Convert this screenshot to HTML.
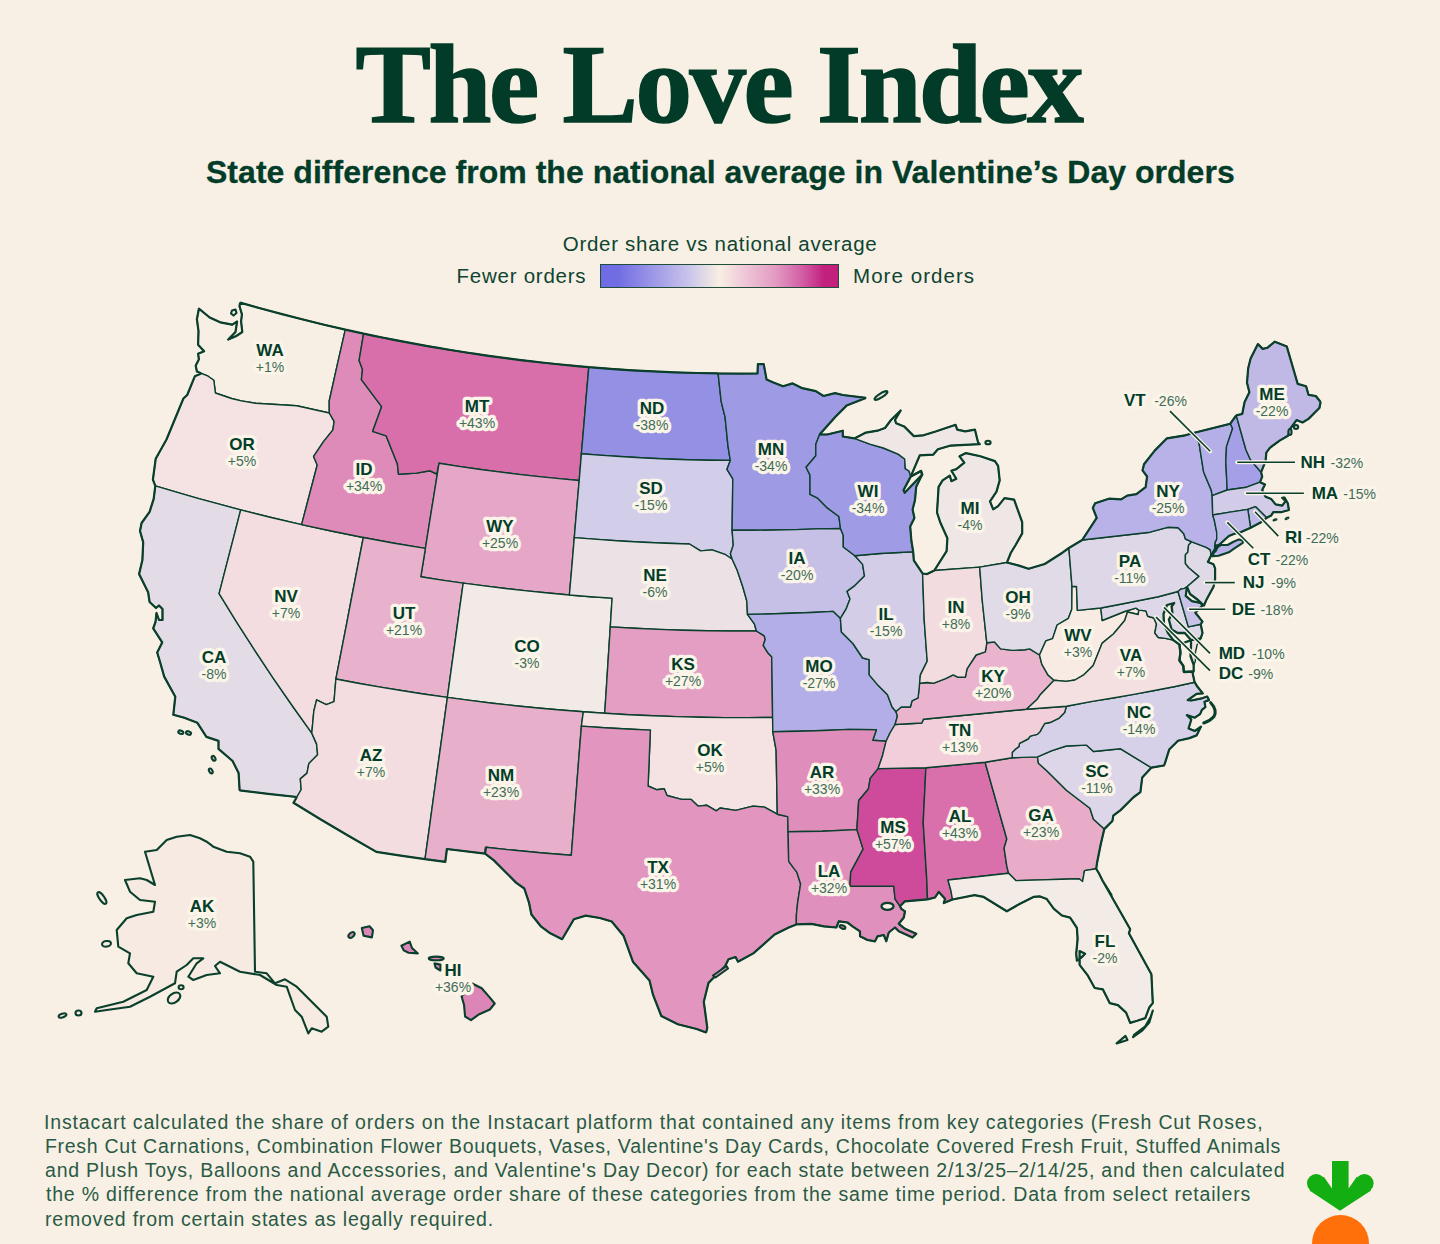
<!DOCTYPE html>
<html><head><meta charset="utf-8"><title>The Love Index</title>
<style>
html,body{margin:0;padding:0;}
body{width:1440px;height:1244px;overflow:hidden;background:#F8F0E4;position:relative;font-family:"Liberation Sans",sans-serif;color:#033D2A;}
.t{position:absolute;white-space:nowrap;line-height:1;}
.title{font-family:"Liberation Serif",serif;font-weight:700;color:#023B27;-webkit-text-stroke:1.6px #023B27;}
.sub{font-weight:700;color:#033D2A;-webkit-text-stroke:0.3px #033D2A;}
.lt,.lg{color:#0E4431;}
.bar{position:absolute;left:600px;top:263.5px;width:237px;height:22px;border:1.5px solid #1F4D3A;background:linear-gradient(90deg,#6F6BE3 0%,#716DE3 7%,#9D98E6 22%,#C9C4EA 37%,#F8EFE2 50%,#EFC9D9 60%,#E39DC3 73%,#D25EA5 85%,#C2217F 94%,#C01F7F 100%);}
.ft{color:#2A5A46;}
svg{position:absolute;left:0;top:0;}
path,ellipse{stroke:#0A3F2C;stroke-width:1.4;stroke-linejoin:round;}
.o{fill:none;stroke-width:2.2;}
.of{stroke-width:2.1;}
.w{fill:#F8F0E4;stroke-width:2.3;}
.ob{fill:none;stroke-width:3;stroke-linecap:round;}
text{font-family:"Liberation Sans",sans-serif;text-anchor:middle;paint-order:stroke;stroke:#FBF4E8;stroke-width:6.5px;stroke-linejoin:round;}
.ab{font-weight:700;font-size:17px;fill:#033D2A;}
.pc{font-size:14px;fill:#3F6C58;}
.st{text-anchor:start;}
.lh{stroke:#FBF4E8;stroke-width:4;stroke-linecap:round;}
.ll{stroke:#0A3F2C;stroke-width:1.6;}
</style></head><body>
<div class="t title" id="title" style="left:355.60px;top:27.00px;font-size:113.00px;letter-spacing:-2.431px;">The Love Index</div>
<div class="t sub" id="sub" style="left:206.00px;top:156.20px;font-size:32.00px;letter-spacing:0.030px;">State difference from the national average in Valentine’s Day orders</div>
<div class="t lt" id="lt" style="left:562.80px;top:234.00px;font-size:20.50px;letter-spacing:0.700px;">Order share vs national average</div>
<div class="t lg" id="fewer" style="left:456.60px;top:266.00px;font-size:20.50px;letter-spacing:0.745px;">Fewer orders</div>
<div class="t lg" id="more" style="left:853.00px;top:266.00px;font-size:20.50px;letter-spacing:1.060px;">More orders</div>
<div class="t ft" id="f1" style="left:44.00px;top:1113.00px;font-size:19.50px;letter-spacing:0.858px;">Instacart calculated the share of orders on the Instacart platform that contained any items from key categories (Fresh Cut Roses,</div>
<div class="t ft" id="f2" style="left:45.00px;top:1137.20px;font-size:19.50px;letter-spacing:0.708px;">Fresh Cut Carnations, Combination Flower Bouquets, Vases, Valentine's Day Cards, Chocolate Covered Fresh Fruit, Stuffed Animals</div>
<div class="t ft" id="f3" style="left:45.00px;top:1161.40px;font-size:19.50px;letter-spacing:0.783px;">and Plush Toys, Balloons and Accessories, and Valentine's Day Decor) for each state between 2/13/25–2/14/25, and then calculated</div>
<div class="t ft" id="f4" style="left:46.00px;top:1185.40px;font-size:19.50px;letter-spacing:0.805px;">the % difference from the national average order share of these categories from the same time period. Data from select retailers</div>
<div class="t ft" id="f5" style="left:45.00px;top:1209.60px;font-size:19.50px;letter-spacing:0.796px;">removed from certain states as legally required.</div>
<div class="bar"></div>
<svg width="1440" height="1244" viewBox="0 0 1440 1244">
<path fill="#F7EFE3" d="M240.1 302.6 L261.0 308.5 L282.0 314.1 L303.0 319.5 L324.1 324.7 L345.3 329.6 L337.2 365.2 L329.2 401.0 L329.2 401.0 L329.3 413.0 L296.7 405.7 L255.7 403.3 L241.3 400.9 L231.6 398.5 L215.4 393.0 L213.8 380.2 L208.1 376.2 L201.3 373.4 L196.9 371.4 L195.7 365.7 L198.9 359.3 L198.1 353.7 L204.1 351.3 L198.1 344.8 L198.5 331.2 L196.9 319.1 L198.9 308.7 L209.7 317.5 L220.2 322.3 L232.3 324.7 L237.1 321.5 L235.5 332.0 L228.2 339.6 L236.3 336.0 L242.3 332.0 L241.1 321.5 L241.9 314.3 L239.5 306.3 L240.1 302.6Z"/>
<path fill="#F5E3E3" d="M201.3 373.4 L208.1 376.2 L213.8 380.2 L215.4 393.0 L231.6 398.5 L241.3 400.9 L255.7 403.3 L296.7 405.7 L329.3 413.0 L334.1 421.4 L332.9 429.9 L323.3 441.9 L313.6 456.4 L317.2 465.0 L301.6 524.6 L271.1 517.5 L240.7 509.9 L219.3 504.2 L197.9 498.3 L176.5 492.2 L155.3 485.8 L152.9 479.6 L155.7 458.8 L166.5 439.5 L183.4 398.5 L187.2 395.0 L194.9 376.2 L201.3 373.4Z"/>
<path fill="#E3DCE6" d="M155.3 485.8 L176.5 492.2 L197.9 498.3 L219.3 504.2 L240.7 509.9 L233.5 537.8 L226.3 565.7 L219.1 593.6 L219.1 593.6 L236.5 621.8 L254.5 649.9 L273.0 677.8 L292.1 705.5 L311.8 733.1 L316.6 744.1 L317.6 754.8 L308.9 763.4 L307.0 773.1 L300.3 778.9 L301.2 789.5 L296.9 797.0 L268.2 793.9 L239.6 790.4 L238.6 773.1 L232.6 761.0 L218.5 748.9 L218.5 740.9 L206.4 736.9 L197.4 722.8 L184.3 717.8 L173.3 714.8 L175.3 696.7 L164.2 676.6 L160.2 662.5 L157.2 652.5 L162.2 642.4 L153.2 628.3 L155.5 622.0 L156.5 613.0 L159.0 620.0 L162.5 620.0 L162.5 609.0 L159.0 605.5 L156.0 608.0 L149.6 602.0 L148.1 592.2 L139.1 574.1 L142.4 560.0 L143.2 542.3 L140.0 531.0 L141.6 523.0 L149.6 511.8 L153.7 498.9 L155.3 485.8Z"/>
<path fill="#F3DDE0" d="M240.7 509.9 L271.1 517.5 L301.6 524.6 L332.4 531.3 L363.3 537.5 L357.8 565.7 L352.3 594.0 L346.9 622.3 L341.4 650.7 L335.9 679.0 L334.0 701.7 L326.3 704.6 L316.6 699.8 L313.8 711.4 L311.8 733.1 L292.1 705.5 L273.0 677.8 L254.5 649.9 L236.5 621.8 L219.1 593.6 L219.1 593.6 L226.3 565.7 L233.5 537.8 L240.7 509.9Z"/>
<path fill="#DF8BB9" d="M345.3 329.6 L363.6 333.6 L359.1 360.5 L362.5 369.5 L361.4 379.7 L381.6 406.7 L372.6 431.4 L386.2 435.9 L397.4 464.1 L398.5 474.2 L416.5 473.1 L430.0 470.8 L436.8 474.0 L439.0 463.3 L434.5 491.6 L429.9 520.0 L425.4 548.4 L394.3 543.2 L363.3 537.5 L332.4 531.3 L301.6 524.6 L317.2 465.0 L313.6 456.4 L323.3 441.9 L332.9 429.9 L334.1 421.4 L329.3 413.0 L329.2 401.0 L329.2 401.0 L337.2 365.2 L345.3 329.6Z"/>
<path fill="#D86FAB" d="M363.6 333.6 L372.9 335.6 L382.2 337.5 L391.5 339.3 L400.8 341.2 L410.1 342.9 L419.5 344.6 L428.8 346.3 L438.2 347.9 L447.5 349.5 L456.9 351.0 L466.3 352.5 L475.7 353.9 L485.1 355.3 L494.5 356.6 L503.9 357.9 L513.3 359.1 L522.7 360.3 L532.1 361.4 L541.5 362.5 L551.0 363.5 L560.4 364.5 L569.9 365.4 L579.3 366.3 L588.8 367.1 L586.3 395.9 L583.9 424.7 L581.4 453.7 L579.2 480.5 L559.1 478.6 L539.0 476.6 L518.9 474.4 L498.9 471.9 L478.9 469.3 L458.9 466.4 L439.0 463.3 L436.8 474.0 L430.0 470.8 L416.5 473.1 L398.5 474.2 L397.4 464.1 L386.2 435.9 L372.6 431.4 L381.6 406.7 L361.4 379.7 L362.5 369.5 L359.1 360.5 L363.6 333.6Z"/>
<path fill="#E6A6C7" d="M439.0 463.3 L458.9 466.4 L478.9 469.3 L498.9 471.9 L518.9 474.4 L539.0 476.6 L559.1 478.6 L579.2 480.5 L576.7 509.0 L574.3 537.6 L571.9 566.3 L569.4 595.0 L548.1 593.0 L526.8 590.9 L505.6 588.5 L484.4 585.9 L463.2 583.1 L442.0 580.1 L420.8 576.8 L420.8 576.8 L425.4 548.4 L429.9 520.0 L434.5 491.6 L439.0 463.3Z"/>
<path fill="#E8B2CC" d="M363.3 537.5 L394.3 543.2 L425.4 548.4 L420.8 576.8 L420.8 576.8 L442.0 580.1 L463.2 583.1 L459.2 611.7 L455.3 640.2 L451.3 668.8 L447.4 697.4 L425.0 694.2 L402.7 690.7 L380.4 687.1 L358.1 683.2 L335.9 679.0 L341.4 650.7 L346.9 622.3 L352.3 594.0 L357.8 565.7 L363.3 537.5Z"/>
<path fill="#F3DDE0" d="M335.9 679.0 L358.1 683.2 L380.4 687.1 L402.7 690.7 L425.0 694.2 L447.4 697.4 L442.9 729.8 L438.4 762.2 L433.9 794.5 L429.5 826.8 L425.0 859.1 L400.7 855.6 L376.4 851.9 L376.4 851.9 L348.4 835.8 L320.8 819.5 L293.5 802.8 L296.9 797.0 L301.2 789.5 L300.3 778.9 L307.0 773.1 L308.9 763.4 L317.6 754.8 L316.6 744.1 L311.8 733.1 L313.8 711.4 L316.6 699.8 L326.3 704.6 L334.0 701.7 L335.9 679.0Z"/>
<path fill="#F2EAE6" d="M463.2 583.1 L484.4 585.9 L505.6 588.5 L526.8 590.9 L548.1 593.0 L569.4 595.0 L590.8 596.7 L612.1 598.1 L612.1 598.1 L610.3 626.9 L608.4 655.7 L606.6 684.5 L604.7 713.3 L583.3 711.8 L560.6 710.0 L537.9 708.0 L515.2 705.7 L492.6 703.2 L470.0 700.4 L447.4 697.4 L451.3 668.8 L455.3 640.2 L459.2 611.7 L463.2 583.1Z"/>
<path fill="#E7AFCA" d="M447.4 697.4 L470.0 700.4 L492.6 703.2 L515.2 705.7 L537.9 708.0 L560.6 710.0 L583.3 711.8 L581.4 726.1 L578.8 758.5 L576.3 790.8 L573.8 823.1 L571.3 855.3 L571.3 855.3 L542.8 853.0 L514.3 850.3 L485.8 847.3 L485.8 847.3 L485.1 853.6 L446.9 849.0 L446.9 849.0 L445.3 861.8 L445.3 861.8 L425.0 859.1 L429.5 826.8 L433.9 794.5 L438.4 762.2 L442.9 729.8 L447.4 697.4Z"/>
<path fill="#9490E3" d="M588.8 367.1 L610.3 368.8 L631.8 370.3 L653.4 371.4 L674.9 372.4 L696.5 373.0 L718.1 373.4 L721.2 401.7 L725.1 417.2 L728.0 446.1 L730.3 460.4 L709.0 460.2 L687.7 459.7 L666.4 459.0 L645.1 458.0 L623.9 456.8 L602.6 455.4 L581.4 453.7 L583.9 424.7 L586.3 395.9 L588.8 367.1Z"/>
<path fill="#D2CDE8" d="M581.4 453.7 L602.6 455.4 L623.9 456.8 L645.1 458.0 L666.4 459.0 L687.7 459.7 L709.0 460.2 L730.3 460.4 L727.0 469.3 L732.8 478.9 L732.1 530.3 L733.3 545.1 L730.4 553.8 L732.2 559.3 L725.6 554.7 L712.1 549.9 L700.5 550.9 L689.5 544.0 L666.4 543.3 L643.3 542.3 L620.3 541.0 L597.3 539.4 L574.3 537.6 L576.7 509.0 L579.2 480.5 L581.4 453.7Z"/>
<path fill="#ECE2E6" d="M574.3 537.6 L597.3 539.4 L620.3 541.0 L643.3 542.3 L666.4 543.3 L689.5 544.0 L700.5 550.9 L712.1 549.9 L725.6 554.7 L732.2 559.3 L737.2 570.2 L743.0 587.5 L746.8 601.0 L747.5 614.4 L754.5 624.2 L756.4 631.0 L732.0 631.0 L707.6 630.8 L683.3 630.3 L658.9 629.4 L634.6 628.3 L610.3 626.9 L612.1 598.1 L612.1 598.1 L590.8 596.7 L569.4 595.0 L571.9 566.3 L574.3 537.6Z"/>
<path fill="#E49DC3" d="M610.3 626.9 L634.6 628.3 L658.9 629.4 L683.3 630.3 L707.6 630.8 L732.0 631.0 L756.4 631.0 L764.2 635.8 L765.2 639.6 L763.2 645.4 L768.0 653.1 L771.7 656.8 L771.7 656.8 L772.2 687.1 L772.6 717.4 L748.6 717.6 L724.6 717.6 L700.6 717.2 L676.6 716.6 L652.7 715.8 L628.7 714.7 L604.7 713.3 L606.6 684.5 L608.4 655.7 L610.3 626.9Z"/>
<path fill="#F5E2E2" d="M583.3 711.8 L604.7 713.3 L628.7 714.7 L652.7 715.8 L676.6 716.6 L700.6 717.2 L724.6 717.6 L748.6 717.6 L772.6 717.4 L772.8 731.8 L776.1 750.2 L777.3 814.2 L764.5 807.1 L752.9 806.1 L735.6 810.4 L720.1 808.0 L716.3 810.9 L706.6 805.2 L698.0 806.1 L691.2 799.4 L681.6 799.4 L667.1 795.5 L664.2 788.8 L656.5 789.7 L648.1 786.0 L650.4 730.1 L650.4 730.1 L627.4 729.0 L604.4 727.7 L581.4 726.1 L583.3 711.8Z"/>
<path fill="#E195BF" d="M581.4 726.1 L604.4 727.7 L627.4 729.0 L650.4 730.1 L650.4 730.1 L648.1 786.0 L656.5 789.7 L664.2 788.8 L667.1 795.5 L681.6 799.4 L691.2 799.4 L698.0 806.1 L706.6 805.2 L716.3 810.9 L720.1 808.0 L735.6 810.4 L752.9 806.1 L764.5 807.1 L777.3 814.2 L787.7 816.6 L788.1 831.8 L788.7 861.4 L793.5 867.9 L796.8 872.1 L800.6 884.0 L797.7 902.1 L796.4 915.0 L796.3 924.4 L788.8 927.4 L774.6 934.5 L753.3 953.4 L738.0 961.7 L735.6 957.0 L728.5 959.3 L725.0 966.4 L715.6 975.8 L708.5 982.9 L703.8 1001.8 L707.3 1027.8 L706.1 1032.5 L696.7 1029.0 L677.8 1024.2 L661.3 1016.0 L653.0 994.7 L649.5 980.6 L632.9 961.7 L623.5 935.7 L611.7 921.5 L599.9 918.0 L585.7 915.6 L573.9 919.2 L562.1 939.2 L550.3 933.3 L540.8 926.3 L531.4 914.5 L529.0 902.6 L524.3 888.5 L516.0 882.6 L500.7 867.2 L493.6 860.1 L485.1 853.6 L485.8 847.3 L485.8 847.3 L514.3 850.3 L542.8 853.0 L571.3 855.3 L571.3 855.3 L573.8 823.1 L576.3 790.8 L578.8 758.5 L581.4 726.1Z"/>
<path fill="#9F9AE4" d="M718.1 373.4 L737.8 373.6 L757.5 373.5 L757.9 364.1 L763.7 364.1 L766.6 379.6 L773.3 382.4 L783.0 386.3 L792.6 383.4 L802.3 388.2 L815.8 391.1 L823.5 396.0 L835.0 393.1 L842.8 395.0 L865.9 397.9 L846.6 405.6 L835.0 417.2 L819.6 434.5 L815.8 444.2 L815.8 455.8 L806.1 467.3 L810.0 475.1 L810.0 494.4 L817.7 498.2 L827.3 507.9 L838.9 516.5 L840.5 528.5 L817.1 528.9 L795.9 529.6 L774.6 530.0 L753.4 530.3 L732.1 530.3 L732.8 478.9 L727.0 469.3 L730.3 460.4 L728.0 446.1 L725.1 417.2 L721.2 401.7 L718.1 373.4Z"/>
<path fill="#C6C0E6" d="M732.1 530.3 L753.4 530.3 L774.6 530.0 L795.9 529.6 L817.1 528.9 L840.5 528.5 L843.3 535.4 L843.3 547.0 L854.9 555.7 L862.6 564.4 L864.5 576.0 L854.9 585.6 L847.1 591.4 L850.0 599.1 L846.2 608.8 L840.4 618.4 L833.2 611.4 L811.5 612.5 L789.8 613.3 L768.1 614.0 L747.5 614.4 L746.8 601.0 L743.0 587.5 L737.2 570.2 L732.2 559.3 L730.4 553.8 L733.3 545.1 L732.1 530.3Z"/>
<path fill="#B3AEE7" d="M747.5 614.4 L768.1 614.0 L789.8 613.3 L811.5 612.5 L833.2 611.4 L840.4 618.4 L841.4 631.9 L852.9 643.5 L862.6 658.0 L869.2 659.6 L869.2 674.9 L878.3 685.6 L887.5 694.7 L892.1 707.0 L895.9 711.5 L897.4 716.1 L895.1 724.5 L890.0 733.0 L886.1 741.2 L872.8 740.3 L876.4 729.7 L849.0 729.4 L823.6 730.5 L798.2 731.3 L772.8 731.8 L772.6 717.4 L772.2 687.1 L771.7 656.8 L771.7 656.8 L768.0 653.1 L763.2 645.4 L765.2 639.6 L764.2 635.8 L756.4 631.0 L754.5 624.2 L747.5 614.4Z"/>
<path fill="#DF8DBA" d="M772.8 731.8 L798.2 731.3 L823.6 730.5 L849.0 729.4 L876.4 729.7 L872.8 740.3 L886.1 741.2 L882.6 755.4 L878.1 768.6 L870.2 778.4 L868.4 789.0 L858.7 800.5 L856.9 829.6 L822.2 831.2 L788.1 831.8 L787.7 816.6 L777.3 814.2 L776.1 750.2 L772.8 731.8Z"/>
<path fill="#E090BC" d="M788.1 831.8 L822.2 831.2 L856.9 829.6 L863.1 849.1 L850.7 872.1 L850.0 886.3 L893.8 886.3 L895.0 898.8 L900.0 906.3 L901.3 908.8 L905.0 911.3 L903.8 917.5 L898.8 923.8 L905.0 928.8 L916.3 933.8 L912.5 937.5 L898.8 931.3 L895.0 927.5 L888.8 932.5 L886.3 941.3 L883.8 935.0 L877.5 936.3 L875.0 941.3 L867.5 940.0 L860.0 936.3 L860.0 931.3 L852.5 926.3 L847.5 922.5 L838.8 921.3 L836.3 927.5 L823.8 926.3 L811.3 923.8 L796.3 924.4 L796.4 915.0 L797.7 902.1 L800.6 884.0 L796.8 872.1 L793.5 867.9 L788.7 861.4 L788.1 831.8Z"/>
<path fill="#CE4A9B" d="M878.1 768.6 L925.9 767.7 L923.2 822.6 L926.8 880.0 L927.5 899.4 L905.0 901.3 L900.0 906.3 L895.0 898.8 L893.8 886.3 L850.0 886.3 L850.7 872.1 L863.1 849.1 L856.9 829.6 L858.7 800.5 L868.4 789.0 L870.2 778.4 L878.1 768.6Z"/>
<path fill="#D970AC" d="M925.9 767.7 L985.1 762.3 L1006.8 839.0 L1004.1 848.1 L1006.8 866.1 L1008.6 873.3 L948.0 880.0 L951.0 891.0 L952.5 899.5 L943.8 903.1 L945.0 898.8 L938.8 891.9 L935.0 897.5 L927.5 899.4 L926.8 880.0 L923.2 822.6 L925.9 767.7Z"/>
<path fill="#E8ABC8" d="M985.1 762.3 L1012.2 757.8 L1037.5 756.9 L1038.4 763.2 L1046.5 770.4 L1066.4 790.3 L1089.9 808.3 L1093.5 819.2 L1104.3 829.1 L1100.7 844.5 L1097.1 862.5 L1096.2 868.8 L1084.5 870.6 L1082.6 881.5 L1079.0 878.8 L1015.8 880.6 L1008.6 873.3 L1006.8 866.1 L1004.1 848.1 L1006.8 839.0 L985.1 762.3Z"/>
<path fill="#F3EBE6" d="M1096.2 868.8 L1084.5 870.6 L1082.6 881.5 L1079.0 878.8 L1015.8 880.6 L1008.6 873.3 L948.0 880.0 L951.0 891.0 L952.5 899.5 L974.5 895.1 L983.3 896.8 L1006.8 911.3 L1019.5 904.0 L1033.9 896.8 L1040.0 896.4 L1046.8 899.1 L1053.7 908.7 L1061.9 915.5 L1070.1 917.6 L1076.9 927.9 L1077.6 938.8 L1076.2 953.8 L1076.9 960.7 L1081.0 957.9 L1085.1 953.8 L1079.6 951.1 L1079.6 964.8 L1087.9 975.7 L1094.7 988.0 L1102.9 989.4 L1109.7 1003.1 L1117.9 1005.1 L1126.1 1012.6 L1130.2 1022.9 L1137.1 1020.8 L1145.3 1018.1 L1149.4 1007.2 L1152.8 1003.1 L1151.4 974.3 L1128.9 933.3 L1130.2 929.2 L1102.2 880.0 L1111.5 895.0 L1102.5 880.6 L1098.9 873.3 L1096.2 868.8Z"/>
<path fill="#DCD6E8" d="M1037.5 756.9 L1052.0 750.6 L1066.4 746.0 L1086.3 745.1 L1093.5 751.5 L1120.6 748.8 L1151.3 767.7 L1142.2 777.6 L1140.4 792.1 L1133.2 797.5 L1120.6 810.1 L1113.3 815.6 L1112.4 821.0 L1104.3 829.1 L1093.5 819.2 L1089.9 808.3 L1066.4 790.3 L1046.5 770.4 L1038.4 763.2 L1037.5 756.9Z"/>
<path fill="#D6D0E8" d="M1066.4 706.3 L1092.2 701.4 L1113.0 698.0 L1133.7 694.4 L1154.4 690.5 L1175.1 686.5 L1194.6 682.2 L1197.5 686.8 L1202.8 693.4 L1196.6 693.9 L1187.7 700.1 L1191.3 700.5 L1201.9 698.3 L1207.2 696.5 L1209.0 700.1 L1204.5 701.8 L1205.4 707.1 L1201.9 709.8 L1200.1 714.2 L1194.8 717.7 L1186.9 715.1 L1191.3 719.5 L1188.6 728.4 L1194.8 731.0 L1201.0 726.6 L1196.6 735.4 L1189.5 738.1 L1178.0 740.7 L1169.2 749.6 L1164.8 763.7 L1163.9 765.5 L1151.3 767.7 L1120.6 748.8 L1093.5 751.5 L1086.3 745.1 L1066.4 746.0 L1052.0 750.6 L1037.5 756.9 L1012.2 757.8 L1012.2 752.4 L1015.8 748.8 L1018.9 746.7 L1019.5 743.3 L1028.1 739.0 L1030.3 736.1 L1037.2 734.4 L1040.2 731.6 L1041.8 728.3 L1044.7 723.5 L1051.0 722.2 L1059.2 718.1 L1064.6 712.6 L1066.4 706.3Z"/>
<path fill="#F2CDDA" d="M895.1 724.5 L921.9 723.0 L923.4 719.2 L975.0 714.2 L1026.5 709.2 L1066.4 706.3 L1064.6 712.6 L1059.2 718.1 L1051.0 722.2 L1044.7 723.5 L1041.8 728.3 L1040.2 731.6 L1037.2 734.4 L1030.3 736.1 L1028.1 739.0 L1019.5 743.3 L1018.9 746.7 L1015.8 748.8 L1012.2 752.4 L1012.2 757.8 L985.1 762.3 L925.9 767.7 L878.1 768.6 L882.6 755.4 L886.1 741.2 L890.0 733.0 L895.1 724.5Z"/>
<path fill="#EAB4CE" d="M895.9 711.5 L901.3 707.0 L910.4 707.0 L912.0 700.8 L918.1 697.8 L919.6 683.3 L927.2 682.5 L933.3 683.3 L945.6 678.7 L953.2 674.9 L957.8 677.2 L965.4 677.2 L967.0 668.8 L976.1 655.0 L985.3 651.9 L986.8 642.8 L994.5 642.0 L1000.6 648.9 L1012.8 650.4 L1025.0 649.7 L1029.6 648.9 L1039.5 655.0 L1041.8 664.2 L1047.9 674.9 L1054.0 680.2 L1040.3 694.7 L1037.2 699.3 L1026.5 709.2 L975.0 714.2 L923.4 719.2 L921.9 723.0 L895.1 724.5 L897.4 716.1 L895.9 711.5Z"/>
<path fill="#D3CDE8" d="M854.9 555.7 L880.0 553.5 L913.2 551.8 L913.8 560.3 L921.0 571.1 L922.6 573.5 L924.2 620.0 L927.2 661.1 L920.4 674.9 L919.6 683.3 L918.1 697.8 L912.0 700.8 L910.4 707.0 L901.3 707.0 L895.9 711.5 L892.1 707.0 L887.5 694.7 L878.3 685.6 L869.2 674.9 L869.2 659.6 L862.6 658.0 L852.9 643.5 L841.4 631.9 L840.4 618.4 L846.2 608.8 L850.0 599.1 L847.1 591.4 L854.9 585.6 L864.5 576.0 L862.6 564.4 L854.9 555.7Z"/>
<path fill="#A09BE5" d="M854.9 555.7 L880.0 553.5 L913.2 551.8 L911.4 541.0 L910.2 526.5 L914.4 518.1 L912.6 509.6 L915.0 500.0 L916.2 486.7 L922.2 474.6 L921.0 471.0 L910.8 476.4 L909.0 471.0 L905.3 468.6 L904.7 459.0 L898.1 454.1 L883.3 448.0 L869.8 444.2 L854.4 438.4 L842.8 436.5 L842.8 430.7 L827.3 434.5 L819.6 434.5 L815.8 444.2 L815.8 455.8 L806.1 467.3 L810.0 475.1 L810.0 494.4 L817.7 498.2 L827.3 507.9 L838.9 516.5 L840.5 528.5 L843.3 535.4 L843.3 547.0 L854.9 555.7Z"/>
<path fill="#EFE6E6" d="M910.8 476.4 L909.0 471.0 L905.3 468.6 L904.7 459.0 L898.1 454.1 L883.3 448.0 L869.8 444.2 L854.4 438.4 L865.9 432.6 L877.5 430.7 L885.0 428.0 L891.0 420.0 L900.7 410.5 L895.0 420.0 L896.1 423.2 L904.1 426.4 L913.8 436.1 L923.4 435.3 L936.3 431.3 L955.6 424.8 L957.2 429.6 L965.2 431.3 L974.9 429.6 L978.1 442.5 L979.7 444.1 L960.0 445.1 L950.0 445.7 L937.9 449.3 L933.1 454.7 L919.8 455.3 L910.8 476.4Z"/>
<path fill="#EFE6E6" d="M934.3 570.5 L946.6 551.1 L947.4 538.3 L940.2 522.2 L937.0 512.5 L938.6 486.8 L942.6 480.4 L949.8 475.6 L951.4 481.2 L956.3 478.8 L951.4 470.7 L956.3 469.1 L964.3 462.7 L959.5 456.3 L965.9 453.1 L980.4 456.3 L994.9 461.1 L998.1 465.9 L999.7 480.4 L996.5 491.6 L990.0 501.3 L993.2 509.3 L998.1 506.1 L1004.5 498.1 L1014.1 499.7 L1022.2 522.2 L1022.2 533.4 L1015.8 544.7 L1010.9 552.7 L1007.0 562.5 L979.7 567.1 L934.3 570.5Z"/>
<path fill="#F3DCE0" d="M922.6 573.5 L927.0 574.1 L934.3 570.5 L979.7 567.1 L982.2 600.0 L986.8 642.8 L985.3 651.9 L976.1 655.0 L967.0 668.8 L965.4 677.2 L957.8 677.2 L953.2 674.9 L945.6 678.7 L933.3 683.3 L927.2 682.5 L919.6 683.3 L920.4 674.9 L927.2 661.1 L924.2 620.0 L922.6 573.5Z"/>
<path fill="#E1DAE7" d="M979.7 567.1 L1007.0 562.5 L1019.0 565.6 L1028.6 568.8 L1044.7 564.0 L1062.4 552.7 L1068.9 548.0 L1072.0 586.5 L1071.8 609.3 L1068.4 618.3 L1057.1 625.0 L1052.6 638.6 L1045.9 640.8 L1039.5 655.0 L1029.6 648.9 L1025.0 649.7 L1012.8 650.4 L1000.6 648.9 L994.5 642.0 L986.8 642.8 L982.2 600.0 L979.7 567.1Z"/>
<path fill="#F7EBE3" d="M1039.5 655.0 L1045.9 640.8 L1052.6 638.6 L1057.1 625.0 L1068.4 618.3 L1071.8 609.3 L1072.0 586.5 L1076.5 586.5 L1077.4 610.4 L1100.8 608.0 L1102.2 620.5 L1124.7 611.5 L1135.9 608.2 L1138.8 610.1 L1138.2 614.5 L1127.5 612.0 L1124.7 620.5 L1113.4 634.0 L1102.2 643.1 L1093.2 665.6 L1084.1 674.6 L1075.0 680.0 L1066.1 681.4 L1054.0 680.2 L1047.9 674.9 L1041.8 664.2 L1039.5 655.0Z"/>
<path fill="#F4E0E0" d="M1054.0 680.2 L1066.1 681.4 L1075.0 680.0 L1084.1 674.6 L1093.2 665.6 L1102.2 643.1 L1113.4 634.0 L1124.7 620.5 L1127.5 612.0 L1138.2 614.5 L1138.8 610.1 L1145.9 610.9 L1147.7 616.3 L1153.9 618.0 L1156.5 624.2 L1154.8 633.0 L1158.3 637.5 L1165.4 638.4 L1173.3 640.1 L1179.5 644.5 L1180.4 652.5 L1179.5 660.5 L1183.3 665.9 L1183.9 672.0 L1192.3 671.5 L1194.6 682.2 L1175.1 686.5 L1154.4 690.5 L1133.7 694.4 L1113.0 698.0 L1092.2 701.4 L1066.4 706.3 L1026.5 709.2 L1037.2 699.3 L1040.3 694.7 L1054.0 680.2Z"/>
<path fill="#DDD7E8" d="M1100.8 608.0 L1123.0 603.7 L1140.7 600.3 L1158.3 596.7 L1178.0 591.5 L1188.4 626.9 L1200.7 624.2 L1202.5 633.0 L1200.7 638.4 L1191.0 640.1 L1179.5 644.5 L1173.3 640.1 L1165.4 638.4 L1158.3 637.5 L1154.8 633.0 L1156.5 624.2 L1153.9 618.0 L1147.7 616.3 L1145.9 610.9 L1138.8 610.1 L1135.9 608.2 L1124.7 611.5 L1102.2 620.5 L1100.8 608.0Z"/>
<path fill="#DDD7E7" d="M1068.9 548.0 L1082.2 540.0 L1150.0 532.2 L1167.7 527.3 L1178.1 527.7 L1183.8 533.8 L1185.4 539.0 L1191.8 541.8 L1188.6 545.0 L1187.8 552.3 L1185.4 554.7 L1185.4 563.5 L1188.6 567.5 L1199.0 576.4 L1187.0 586.8 L1184.6 588.4 L1181.0 589.0 L1178.0 591.5 L1158.3 596.7 L1140.7 600.3 L1123.0 603.7 L1100.8 608.0 L1077.4 610.4 L1076.5 586.5 L1072.0 586.5 L1068.9 548.0Z"/>
<path fill="#C8C2E8" d="M1178.0 591.5 L1181.0 589.0 L1184.6 588.4 L1187.0 586.8 L1185.7 595.9 L1191.9 601.2 L1200.7 603.0 L1202.5 605.6 L1195.4 612.7 L1202.5 621.6 L1200.7 624.2 L1188.4 626.9 L1178.0 591.5Z"/>
<path fill="#E0DAE7" d="M1187.0 586.8 L1199.0 576.4 L1188.6 567.5 L1185.4 563.5 L1185.4 554.7 L1187.8 552.3 L1188.6 545.0 L1191.8 541.8 L1206.3 547.4 L1210.3 549.8 L1211.1 555.5 L1207.9 561.9 L1213.5 564.3 L1215.1 568.3 L1215.1 579.6 L1213.5 586.8 L1206.3 600.0 L1204.0 605.5 L1198.0 600.0 L1190.0 594.0 L1187.0 586.8Z"/>
<path fill="#B8B2E8" d="M1082.2 540.0 L1096.7 517.8 L1092.8 507.9 L1095.1 503.3 L1108.9 498.7 L1121.1 499.4 L1127.2 495.6 L1136.4 494.1 L1145.6 487.2 L1147.1 476.5 L1142.5 470.4 L1144.0 464.3 L1154.7 450.6 L1167.0 438.3 L1185.3 435.3 L1194.3 432.8 L1199.0 442.9 L1203.6 472.0 L1211.3 490.3 L1212.2 495.6 L1212.7 515.0 L1214.3 520.1 L1216.7 532.2 L1216.7 539.4 L1215.1 542.6 L1215.6 547.8 L1211.1 555.5 L1210.3 549.8 L1206.3 547.4 L1191.8 541.8 L1185.4 539.0 L1183.8 533.8 L1178.1 527.7 L1167.7 527.3 L1150.0 532.2 L1082.2 540.0Z"/>
<path fill="#B5AFE8" d="M1194.3 432.8 L1230.3 423.7 L1232.6 428.5 L1226.5 446.6 L1225.8 461.3 L1227.2 490.0 L1212.2 495.6 L1211.3 490.3 L1203.6 472.0 L1199.0 442.9 L1194.3 432.8Z"/>
<path fill="#A49FE6" d="M1230.3 423.7 L1236.2 415.3 L1246.0 450.0 L1250.6 460.0 L1261.1 472.2 L1262.2 476.7 L1260.0 482.2 L1246.7 487.2 L1227.2 490.0 L1225.8 461.3 L1226.5 446.6 L1232.6 428.5 L1230.3 423.7Z"/>
<path fill="#C0B9E6" d="M1236.2 415.3 L1242.2 414.0 L1244.6 402.0 L1249.4 392.3 L1247.0 382.7 L1248.2 368.2 L1250.6 358.6 L1257.9 344.1 L1262.7 348.9 L1267.5 347.7 L1274.8 341.7 L1286.8 346.5 L1297.7 383.9 L1306.1 386.3 L1308.5 394.8 L1315.8 396.0 L1320.6 402.0 L1319.4 408.0 L1308.5 418.9 L1302.5 422.5 L1296.5 420.1 L1290.4 428.5 L1288.0 435.8 L1279.6 440.6 L1269.9 447.8 L1266.3 452.6 L1265.6 461.0 L1261.1 472.2 L1250.6 460.0 L1246.0 450.0 L1236.2 415.3Z"/>
<path fill="#D2CCE8" d="M1227.2 490.0 L1246.7 487.2 L1260.0 482.2 L1265.0 484.4 L1262.2 490.0 L1265.6 496.7 L1271.1 498.9 L1275.6 504.4 L1282.2 505.6 L1285.6 501.1 L1282.2 497.8 L1284.5 497.5 L1287.8 503.3 L1288.9 510.0 L1281.1 512.2 L1273.3 512.2 L1271.1 515.6 L1266.7 517.8 L1255.6 506.7 L1247.8 509.4 L1230.0 512.1 L1212.7 515.0 L1212.2 495.6 L1227.2 490.0Z"/>
<path fill="#C0BAE8" d="M1247.8 509.4 L1255.6 506.7 L1266.7 517.8 L1261.1 522.2 L1250.6 527.8 L1247.8 509.4Z"/>
<path fill="#C0BAE8" d="M1212.7 515.0 L1230.0 512.1 L1247.8 509.4 L1250.6 527.8 L1241.1 532.1 L1234.4 533.8 L1228.8 536.0 L1220.9 543.3 L1215.6 547.8 L1215.1 542.6 L1216.7 539.4 L1216.7 532.2 L1214.3 520.1 L1212.7 515.0Z"/>
<path fill="#F4E0E0" d="M1200.7 638.4 L1197.2 644.5 L1195.4 652.5 L1195.4 661.3 L1193.7 665.0 L1190.5 656.0 L1191.0 646.3 L1191.0 640.1Z"/>
<path fill="#B8B2E8" class="of" d="M1215.5 548.0 L1220.9 545.0 L1227.6 545.0 L1233.0 542.0 L1238.9 539.4 L1242.8 540.5 L1242.8 542.8 L1234.4 548.4 L1228.8 552.3 L1218.6 555.7 L1212.5 556.3Z"/>
<path fill="#0A3F2C" d="M1214.5 545.5 L1219.5 544.5 L1215.5 552Z"/>
<path class="w" d="M1174.2 603.0 L1171.6 606.5 L1172.4 612.7 L1168.9 619.8 L1171.6 629.5 L1177.7 633.0 L1184.8 633.0 L1191.0 640.1 L1191.0 646.3 L1190.5 656.0 L1193.7 665.0 L1193.7 671.5 L1183.9 672.0 L1183.3 665.9 L1179.5 660.5 L1180.4 652.5 L1179.5 644.5 L1173.3 640.1 L1168.0 633.0 L1164.0 624.0 L1163.5 614.0 L1167.0 605.0Z"/>
<path class="w" d="M910.8 476.4 L903.5 490.3 L904.7 492.7 L922.2 474.6 L921.0 471.0Z"/>
<ellipse class="w" cx="887.5" cy="906.3" rx="6" ry="3.5"/>
<g class="b">
</g>
<path class="o" d="M240.1 302.6 L261.0 308.5 L282.0 314.1 L303.0 319.5 L324.1 324.7 L345.3 329.6 M240.1 302.6 L239.5 306.3 L241.9 314.3 L241.1 321.5 L242.3 332.0 L236.3 336.0 L228.2 339.6 L235.5 332.0 L237.1 321.5 L232.3 324.7 L220.2 322.3 L209.7 317.5 L198.9 308.7 L196.9 319.1 L198.5 331.2 L198.1 344.8 L204.1 351.3 L198.1 353.7 L198.9 359.3 L195.7 365.7 L196.9 371.4 L201.3 373.4 M345.3 329.6 L363.6 333.6 M201.3 373.4 L194.9 376.2 L187.2 395.0 L183.4 398.5 L166.5 439.5 L155.7 458.8 L152.9 479.6 L155.3 485.8 M155.3 485.8 L153.7 498.9 L149.6 511.8 L141.6 523.0 L140.0 531.0 L143.2 542.3 L142.4 560.0 L139.1 574.1 L148.1 592.2 L149.6 602.0 L156.0 608.0 L159.0 605.5 L162.5 609.0 L162.5 620.0 L159.0 620.0 L156.5 613.0 L155.5 622.0 L153.2 628.3 L162.2 642.4 L157.2 652.5 L160.2 662.5 L164.2 676.6 L175.3 696.7 L173.3 714.8 L184.3 717.8 L197.4 722.8 L206.4 736.9 L218.5 740.9 L218.5 748.9 L232.6 761.0 L238.6 773.1 L239.6 790.4 M239.6 790.4 L268.2 793.9 L296.9 797.0 M296.9 797.0 L293.5 802.8 L320.8 819.5 L348.4 835.8 L376.4 851.9 L376.4 851.9 L400.7 855.6 L425.0 859.1 M425.0 859.1 L445.3 861.8 L445.3 861.8 L446.9 849.0 L446.9 849.0 L485.1 853.6 L485.8 847.3 M706.1 1032.5 L696.7 1029.0 L677.8 1024.2 L661.3 1016.0 L653.0 994.7 L649.5 980.6 L632.9 961.7 L623.5 935.7 L611.7 921.5 L599.9 918.0 L585.7 915.6 L573.9 919.2 L562.1 939.2 L550.3 933.3 L540.8 926.3 L531.4 914.5 L529.0 902.6 L524.3 888.5 L516.0 882.6 L500.7 867.2 L493.6 860.1 L485.1 853.6 L485.8 847.3 M796.3 924.4 L788.8 927.4 L774.6 934.5 L753.3 953.4 L738.0 961.7 L735.6 957.0 L728.5 959.3 L725.0 966.4 L715.6 975.8 L708.5 982.9 L703.8 1001.8 L707.3 1027.8 L706.1 1032.5 M796.3 924.4 L811.3 923.8 L823.8 926.3 L836.3 927.5 L838.8 921.3 L847.5 922.5 L852.5 926.3 L860.0 931.3 L860.0 936.3 L867.5 940.0 L875.0 941.3 L877.5 936.3 L883.8 935.0 L886.3 941.3 L888.8 932.5 L895.0 927.5 L898.8 931.3 L912.5 937.5 L916.3 933.8 L905.0 928.8 L898.8 923.8 L903.8 917.5 L905.0 911.3 L901.3 908.8 L900.0 906.3 M900.0 906.3 L905.0 901.3 L927.5 899.4 M927.5 899.4 L935.0 897.5 L938.8 891.9 L945.0 898.8 L943.8 903.1 L952.5 899.5 M952.5 899.5 L974.5 895.1 L983.3 896.8 L1006.8 911.3 L1019.5 904.0 L1033.9 896.8 L1040.0 896.4 L1046.8 899.1 L1053.7 908.7 L1061.9 915.5 L1070.1 917.6 L1076.9 927.9 L1077.6 938.8 L1076.2 953.8 L1076.9 960.7 L1081.0 957.9 L1085.1 953.8 L1079.6 951.1 L1079.6 964.8 L1087.9 975.7 L1094.7 988.0 L1102.9 989.4 L1109.7 1003.1 L1117.9 1005.1 L1126.1 1012.6 L1130.2 1022.9 L1137.1 1020.8 L1145.3 1018.1 L1149.4 1007.2 L1152.8 1003.1 L1151.4 974.3 L1128.9 933.3 L1130.2 929.2 L1102.2 880.0 L1111.5 895.0 L1102.5 880.6 L1098.9 873.3 L1096.2 868.8 M1104.3 829.1 L1100.7 844.5 L1097.1 862.5 L1096.2 868.8 M1151.3 767.7 L1142.2 777.6 L1140.4 792.1 L1133.2 797.5 L1120.6 810.1 L1113.3 815.6 L1112.4 821.0 L1104.3 829.1 M1194.6 682.2 L1197.5 686.8 L1202.8 693.4 L1196.6 693.9 L1187.7 700.1 L1191.3 700.5 L1201.9 698.3 L1207.2 696.5 L1209.0 700.1 L1204.5 701.8 L1205.4 707.1 L1201.9 709.8 L1200.1 714.2 L1194.8 717.7 L1186.9 715.1 L1191.3 719.5 L1188.6 728.4 L1194.8 731.0 L1201.0 726.6 L1196.6 735.4 L1189.5 738.1 L1178.0 740.7 L1169.2 749.6 L1164.8 763.7 L1163.9 765.5 L1151.3 767.7 M1179.5 644.5 L1180.4 652.5 L1179.5 660.5 L1183.3 665.9 L1183.9 672.0 L1192.3 671.5 L1194.6 682.2 M1200.7 624.2 L1202.5 633.0 L1200.7 638.4 L1191.0 640.1 L1179.5 644.5 M1187.0 586.8 L1185.7 595.9 L1191.9 601.2 L1200.7 603.0 L1202.5 605.6 L1195.4 612.7 L1202.5 621.6 L1200.7 624.2 M1211.1 555.5 L1207.9 561.9 L1213.5 564.3 L1215.1 568.3 L1215.1 579.6 L1213.5 586.8 L1206.3 600.0 L1204.0 605.5 L1198.0 600.0 L1190.0 594.0 L1187.0 586.8 M1215.6 547.8 L1211.1 555.5 M1215.6 547.8 L1220.9 543.3 L1228.8 536.0 L1234.4 533.8 L1241.1 532.1 L1250.6 527.8 M1250.6 527.8 L1261.1 522.2 L1266.7 517.8 M1260.0 482.2 L1265.0 484.4 L1262.2 490.0 L1265.6 496.7 L1271.1 498.9 L1275.6 504.4 L1282.2 505.6 L1285.6 501.1 L1282.2 497.8 L1284.5 497.5 L1287.8 503.3 L1288.9 510.0 L1281.1 512.2 L1273.3 512.2 L1271.1 515.6 L1266.7 517.8 M1261.1 472.2 L1262.2 476.7 L1260.0 482.2 M1320.6 402.0 L1319.4 408.0 L1308.5 418.9 L1302.5 422.5 L1296.5 420.1 L1290.4 428.5 L1288.0 435.8 L1279.6 440.6 L1269.9 447.8 L1266.3 452.6 L1265.6 461.0 L1261.1 472.2 M1236.2 415.3 L1242.2 414.0 L1244.6 402.0 L1249.4 392.3 L1247.0 382.7 L1248.2 368.2 L1250.6 358.6 L1257.9 344.1 L1262.7 348.9 L1267.5 347.7 L1274.8 341.7 L1286.8 346.5 L1297.7 383.9 L1306.1 386.3 L1308.5 394.8 L1315.8 396.0 L1320.6 402.0 M1230.3 423.7 L1236.2 415.3 M1194.3 432.8 L1230.3 423.7 M1185.3 435.3 L1194.3 432.8 M1082.2 540.0 L1096.7 517.8 L1092.8 507.9 L1095.1 503.3 L1108.9 498.7 L1121.1 499.4 L1127.2 495.6 L1136.4 494.1 L1145.6 487.2 L1147.1 476.5 L1142.5 470.4 L1144.0 464.3 L1154.7 450.6 L1167.0 438.3 L1185.3 435.3 M1068.9 548.0 L1082.2 540.0 M1007.0 562.5 L1019.0 565.6 L1028.6 568.8 L1044.7 564.0 L1062.4 552.7 L1068.9 548.0 M934.3 570.5 L946.6 551.1 L947.4 538.3 L940.2 522.2 L937.0 512.5 L938.6 486.8 L942.6 480.4 L949.8 475.6 L951.4 481.2 L956.3 478.8 L951.4 470.7 L956.3 469.1 L964.3 462.7 L959.5 456.3 L965.9 453.1 L980.4 456.3 L994.9 461.1 L998.1 465.9 L999.7 480.4 L996.5 491.6 L990.0 501.3 L993.2 509.3 L998.1 506.1 L1004.5 498.1 L1014.1 499.7 L1022.2 522.2 L1022.2 533.4 L1015.8 544.7 L1010.9 552.7 L1007.0 562.5 M854.4 438.4 L865.9 432.6 L877.5 430.7 L885.0 428.0 L891.0 420.0 L900.7 410.5 L895.0 420.0 L896.1 423.2 L904.1 426.4 L913.8 436.1 L923.4 435.3 L936.3 431.3 L955.6 424.8 L957.2 429.6 L965.2 431.3 L974.9 429.6 L978.1 442.5 L979.7 444.1 L960.0 445.1 L950.0 445.7 L937.9 449.3 L933.1 454.7 L919.8 455.3 L910.8 476.4 M922.6 573.5 L927.0 574.1 L934.3 570.5 M913.2 551.8 L913.8 560.3 L921.0 571.1 L922.6 573.5 M913.2 551.8 L911.4 541.0 L910.2 526.5 L914.4 518.1 L912.6 509.6 L915.0 500.0 L916.2 486.7 L922.2 474.6 L921.0 471.0 L910.8 476.4 M854.4 438.4 L842.8 436.5 L842.8 430.7 L827.3 434.5 L819.6 434.5 M865.9 397.9 L846.6 405.6 L835.0 417.2 L819.6 434.5 M718.1 373.4 L737.8 373.6 L757.5 373.5 L757.9 364.1 L763.7 364.1 L766.6 379.6 L773.3 382.4 L783.0 386.3 L792.6 383.4 L802.3 388.2 L815.8 391.1 L823.5 396.0 L835.0 393.1 L842.8 395.0 L865.9 397.9 M588.8 367.1 L610.3 368.8 L631.8 370.3 L653.4 371.4 L674.9 372.4 L696.5 373.0 L718.1 373.4 M363.6 333.6 L372.9 335.6 L382.2 337.5 L391.5 339.3 L400.8 341.2 L410.1 342.9 L419.5 344.6 L428.8 346.3 L438.2 347.9 L447.5 349.5 L456.9 351.0 L466.3 352.5 L475.7 353.9 L485.1 355.3 L494.5 356.6 L503.9 357.9 L513.3 359.1 L522.7 360.3 L532.1 361.4 L541.5 362.5 L551.0 363.5 L560.4 364.5 L569.9 365.4 L579.3 366.3 L588.8 367.1"/>
<path d="M232 310.5 L235.5 309.5 L236.5 313 L233.5 315.5 L231 313.5Z" fill="#F7EFE3" class="of"/>
<ellipse cx="180.8" cy="732.2" rx="2.6" ry="1.6" transform="rotate(20 180.8 732.2)" fill="#E3DCE6" class="of"/>
<ellipse cx="188.5" cy="733" rx="2.6" ry="1.6" transform="rotate(20 188.5 733)" fill="#E3DCE6" class="of"/>
<ellipse cx="213.6" cy="758.3" rx="1.6" ry="2.6" transform="rotate(-30 213.6 758.3)" fill="#E3DCE6" class="of"/>
<ellipse cx="210.8" cy="771" rx="1.6" ry="2.6" transform="rotate(-30 210.8 771)" fill="#E3DCE6" class="of"/>
<ellipse cx="881" cy="395.5" rx="7.5" ry="2" transform="rotate(-32 881 395.5)" fill="#EFE6E6" class="of"/>
<ellipse cx="988" cy="442.5" rx="2.6" ry="1.8" fill="#EFE6E6" class="of"/>
<path d="M713 975.5 L726.5 966 L728 968.5 L715.5 977.5Z" fill="#E195BF" class="of"/>
<ellipse cx="842.5" cy="927" rx="3" ry="1.5" transform="rotate(20 842.5 927)" fill="#E090BC" class="of"/>
<ellipse style="stroke-width:1.3" cx="1275" cy="519.8" rx="2" ry="0.7" transform="rotate(-20 1275 519.8)" fill="#D2CCE8" class="of"/>
<ellipse style="stroke-width:1.3" cx="1287" cy="518.3" rx="2" ry="0.8" transform="rotate(-25 1287 518.3)" fill="#D2CCE8" class="of"/>
<ellipse cx="1290" cy="432" rx="1.6" ry="3" fill="#C0B9E6" class="of"/>
<ellipse cx="1296" cy="427" rx="2.2" ry="2" fill="#C0B9E6" class="of"/>
<path d="M1152.8 1010.6 L1149.4 1022.2 L1142.5 1030.4 L1133.0 1037.2 L1134.3 1034.5 L1145.3 1026.3 L1150.7 1016.7Z" fill="#F3EBE6" class="of"/>
<path d="M1116.6 1043.4 L1125.5 1035.9 L1127.5 1040Z" fill="#F3EBE6" class="of"/>
<path class="ob" d="M1210.7 702.7 Q1217.5 710 1214 716.5 Q1210 721 1203.7 723"/>
<path fill="#F6EAE3" class="of" d="M145.0 851.7 L156.7 850.0 L166.7 840.0 L176.7 836.7 L190.0 835.0 L200.0 838.3 L206.7 841.7 L213.3 846.7 L226.7 851.7 L240.0 853.3 L250.0 856.7 L253.3 861.7 L255.0 971.7 L266.7 973.3 L275.0 983.3 L285.0 979.3 L296.7 986.7 L326.7 1016.7 L328.3 1026.7 L321.7 1031.7 L311.7 1028.3 L308.3 1033.3 L301.7 1016.7 L295.0 1010.0 L286.7 986.7 L276.7 985.0 L260.0 975.0 L240.0 971.7 L220.0 961.7 L215.0 966.0 L220.0 973.3 L206.7 975.0 L193.3 980.0 L188.3 976.7 L196.7 963.3 L203.3 958.3 L193.3 958.3 L186.7 965.0 L176.7 971.7 L175.0 983.3 L150.0 996.7 L130.0 1006.7 L106.7 1010.0 L95.0 1011.7 L96.7 1008.3 L123.3 1001.7 L146.7 990.0 L153.3 976.7 L136.7 973.3 L128.3 963.3 L130.0 953.3 L118.3 946.7 L116.7 930.0 L126.7 918.3 L136.7 915.0 L153.3 911.7 L155.0 901.7 L140.0 900.0 L130.0 891.7 L125.0 880.0 L140.0 878.3 L146.7 880.0 L155.0 885.0Z"/>
<ellipse fill="#F6EAE3" class="of" cx="101.9" cy="898" rx="2.5" ry="7" transform="rotate(-35 101.9 898)"/>
<ellipse fill="#F6EAE3" class="of" cx="106.5" cy="943.8" rx="4.5" ry="2.8" transform="rotate(-10 106.5 943.8)"/>
<ellipse fill="#F6EAE3" class="of" cx="174" cy="998" rx="7" ry="4.5" transform="rotate(-35 174 998)"/>
<ellipse fill="#F6EAE3" class="of" cx="181.1" cy="987.2" rx="2.5" ry="2" transform="rotate(0 181.1 987.2)"/>
<ellipse fill="#F6EAE3" class="of" cx="62.5" cy="1015.5" rx="4" ry="1.8" transform="rotate(-20 62.5 1015.5)"/>
<ellipse fill="#F6EAE3" class="of" cx="78.5" cy="1013" rx="3" ry="2.5" transform="rotate(0 78.5 1013)"/>
<path fill="#DC85B7" class="of" d="M361.8 928.0 L369.5 926.2 L373.0 930.3 L371.9 937.4 L363.6 935.7Z"/>
<path fill="#DC85B7" class="of" d="M401.4 945.7 L409.7 941.6 L412.0 948.0 L417.9 953.4 L408.5 952.8 L403.8 950.4Z"/>
<path fill="#DC85B7" class="of" d="M434.5 963.4 L440.4 964.6 L440.4 970.5 L435.6 967.5Z"/>
<path fill="#DC85B7" class="of" d="M472.2 983.5 L481.7 988.2 L489.9 997.6 L494.7 1003.5 L489.9 1009.5 L479.3 1014.2 L471.0 1020.1 L465.1 1016.5 L464.0 1004.7 L461.6 996.5 L467.5 990.6Z"/>
<ellipse fill="#DC85B7" class="of" cx="351.5" cy="935" rx="3.5" ry="2.2" transform="rotate(-40 351.5 935)"/>
<ellipse fill="#DC85B7" class="of" cx="436.2" cy="958.4" rx="7.5" ry="1.8" transform="rotate(0 436.2 958.4)"/><line class="lh" x1="1170" y1="411.1" x2="1210.2" y2="451.3"/><line class="lh" x1="1237.2" y1="462.2" x2="1295" y2="462.2"/><line class="lh" x1="1246.1" y1="493.3" x2="1303.9" y2="493.3"/><line class="lh" x1="1255" y1="511.7" x2="1278.3" y2="536.1"/><line class="lh" x1="1227.3" y1="522.4" x2="1253.3" y2="548.3"/><line class="lh" x1="1205.1" y1="582.6" x2="1234.8" y2="582.6"/><line class="lh" x1="1189" y1="609.2" x2="1225.2" y2="609.2"/><line class="lh" x1="1164" y1="607.4" x2="1210" y2="653.4"/><line class="lh" x1="1156.1" y1="617.1" x2="1210" y2="670.6"/><line class="ll" x1="1170" y1="411.1" x2="1210.2" y2="451.3"/><line class="ll" x1="1237.2" y1="462.2" x2="1295" y2="462.2"/><line class="ll" x1="1246.1" y1="493.3" x2="1303.9" y2="493.3"/><line class="ll" x1="1255" y1="511.7" x2="1278.3" y2="536.1"/><line class="ll" x1="1227.3" y1="522.4" x2="1253.3" y2="548.3"/><line class="ll" x1="1205.1" y1="582.6" x2="1234.8" y2="582.6"/><line class="ll" x1="1189" y1="609.2" x2="1225.2" y2="609.2"/><line class="ll" x1="1164" y1="607.4" x2="1210" y2="653.4"/><line class="ll" x1="1156.1" y1="617.1" x2="1210" y2="670.6"/><text class="ab" x="270.0" y="355.5">WA</text><text class="pc" x="270.0" y="371.5">+1%</text><text class="ab" x="242.0" y="449.5">OR</text><text class="pc" x="242.0" y="465.5">+5%</text><text class="ab" x="214.0" y="662.5">CA</text><text class="pc" x="214.0" y="678.5">-8%</text><text class="ab" x="286.0" y="601.5">NV</text><text class="pc" x="286.0" y="617.5">+7%</text><text class="ab" x="364.0" y="474.5">ID</text><text class="pc" x="364.0" y="490.5">+34%</text><text class="ab" x="477.0" y="411.5">MT</text><text class="pc" x="477.0" y="427.5">+43%</text><text class="ab" x="500.0" y="531.5">WY</text><text class="pc" x="500.0" y="547.5">+25%</text><text class="ab" x="404.0" y="618.5">UT</text><text class="pc" x="404.0" y="634.5">+21%</text><text class="ab" x="371.0" y="760.5">AZ</text><text class="pc" x="371.0" y="776.5">+7%</text><text class="ab" x="527.0" y="651.5">CO</text><text class="pc" x="527.0" y="667.5">-3%</text><text class="ab" x="501.0" y="780.5">NM</text><text class="pc" x="501.0" y="796.5">+23%</text><text class="ab" x="652.0" y="413.5">ND</text><text class="pc" x="652.0" y="429.5">-38%</text><text class="ab" x="651.0" y="493.5">SD</text><text class="pc" x="651.0" y="509.5">-15%</text><text class="ab" x="655.0" y="580.5">NE</text><text class="pc" x="655.0" y="596.5">-6%</text><text class="ab" x="683.0" y="669.5">KS</text><text class="pc" x="683.0" y="685.5">+27%</text><text class="ab" x="710.0" y="755.5">OK</text><text class="pc" x="710.0" y="771.5">+5%</text><text class="ab" x="658.0" y="872.5">TX</text><text class="pc" x="658.0" y="888.5">+31%</text><text class="ab" x="771.0" y="454.5">MN</text><text class="pc" x="771.0" y="470.5">-34%</text><text class="ab" x="797.0" y="563.5">IA</text><text class="pc" x="797.0" y="579.5">-20%</text><text class="ab" x="819.0" y="671.5">MO</text><text class="pc" x="819.0" y="687.5">-27%</text><text class="ab" x="822.0" y="777.5">AR</text><text class="pc" x="822.0" y="793.5">+33%</text><text class="ab" x="829.0" y="876.5">LA</text><text class="pc" x="829.0" y="892.5">+32%</text><text class="ab" x="868.0" y="496.5">WI</text><text class="pc" x="868.0" y="512.5">-34%</text><text class="ab" x="886.0" y="619.5">IL</text><text class="pc" x="886.0" y="635.5">-15%</text><text class="ab" x="893.0" y="832.5">MS</text><text class="pc" x="893.0" y="848.5">+57%</text><text class="ab" x="960.0" y="821.5">AL</text><text class="pc" x="960.0" y="837.5">+43%</text><text class="ab" x="960.0" y="735.5">TN</text><text class="pc" x="960.0" y="751.5">+13%</text><text class="ab" x="993.0" y="681.5">KY</text><text class="pc" x="993.0" y="697.5">+20%</text><text class="ab" x="956.0" y="612.5">IN</text><text class="pc" x="956.0" y="628.5">+8%</text><text class="ab" x="970.0" y="513.5">MI</text><text class="pc" x="970.0" y="529.5">-4%</text><text class="ab" x="1018.0" y="602.5">OH</text><text class="pc" x="1018.0" y="618.5">-9%</text><text class="ab" x="1078.0" y="640.5">WV</text><text class="pc" x="1078.0" y="656.5">+3%</text><text class="ab" x="1131.0" y="660.5">VA</text><text class="pc" x="1131.0" y="676.5">+7%</text><text class="ab" x="1139.0" y="717.5">NC</text><text class="pc" x="1139.0" y="733.5">-14%</text><text class="ab" x="1097.0" y="776.5">SC</text><text class="pc" x="1097.0" y="792.5">-11%</text><text class="ab" x="1041.0" y="820.5">GA</text><text class="pc" x="1041.0" y="836.5">+23%</text><text class="ab" x="1105.0" y="946.5">FL</text><text class="pc" x="1105.0" y="962.5">-2%</text><text class="ab" x="1130.0" y="566.5">PA</text><text class="pc" x="1130.0" y="582.5">-11%</text><text class="ab" x="1168.0" y="496.5">NY</text><text class="pc" x="1168.0" y="512.5">-25%</text><text class="ab" x="1272.0" y="399.5">ME</text><text class="pc" x="1272.0" y="415.5">-22%</text><text class="ab" x="202.0" y="911.5">AK</text><text class="pc" x="202.0" y="927.5">+3%</text><text class="ab" x="453.0" y="975.5">HI</text><text class="pc" x="453.0" y="991.5">+36%</text><text class="ab st" x="1124.0" y="406.3">VT</text><text class="pc st" x="1154.2" y="406.3">-26%</text><text class="ab st" x="1300.6" y="468.3">NH</text><text class="pc st" x="1330.6" y="468.3">-32%</text><text class="ab st" x="1311.7" y="499.4">MA</text><text class="pc st" x="1343.3" y="499.4">-15%</text><text class="ab st" x="1285.0" y="543.3">RI</text><text class="pc st" x="1306.1" y="543.3">-22%</text><text class="ab st" x="1247.8" y="565.0">CT</text><text class="pc st" x="1275.6" y="565.0">-22%</text><text class="ab st" x="1242.8" y="588.1">NJ</text><text class="pc st" x="1271.0" y="588.1">-9%</text><text class="ab st" x="1231.8" y="615.3">DE</text><text class="pc st" x="1260.4" y="615.3">-18%</text><text class="ab st" x="1218.7" y="658.5">MD</text><text class="pc st" x="1251.9" y="658.5">-10%</text><text class="ab st" x="1218.7" y="678.6">DC</text><text class="pc st" x="1248.3" y="678.6">-9%</text>
<g>
<path style="stroke:none" fill="#12AE12" d="M1340 1210.8 L1309.5 1190.5 L1323.8 1176.8 L1332 1188.5 L1332 1161 L1348.6 1161 L1348.6 1188.5 L1356.8 1176.8 L1371.1 1190.5 Z"/>
<circle style="stroke:none" fill="#12AE12" cx="1316.2" cy="1183.2" r="9.2"/><circle style="stroke:none" fill="#12AE12" cx="1364.4" cy="1183.2" r="9.2"/>
<circle cx="1340.5" cy="1243.5" r="28.5" fill="#FF700A" style="stroke:none"/>
</g>
</svg>

</body></html>
